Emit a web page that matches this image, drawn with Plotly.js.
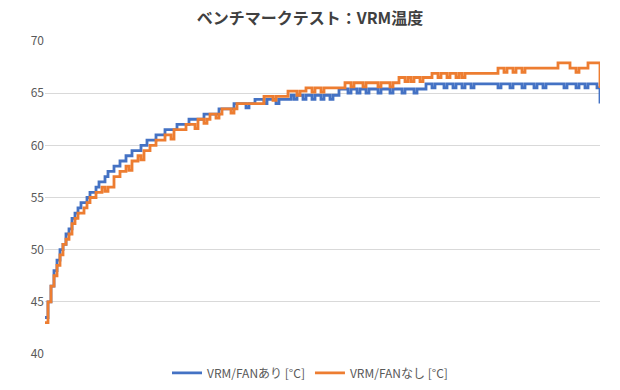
<!DOCTYPE html>
<html>
<head>
<meta charset="utf-8">
<script src="https://cdn.plot.ly/plotly-3.0.1.min.js"></script>
<style>
html,body{margin:0;padding:0;background:#fff;}
#chart{width:620px;height:390px;}
</style>
</head>
<body>
<div id="chart"></div>
<script>
const chartTitle = 'ベンチマークテスト：VRM温度';
const seriesNames = ['VRM/FANあり [°C]', 'VRM/FANなし [°C]'];
const yTickValues = [40, 45, 50, 55, 60, 65, 70];

// Sample number along the benchmark run
const sampleIndex = [
  0,1,2,3,4,5,6,7,8,9,10,11,12,13,14,15,16,17,18,19,
  20,21,22,23,24,25,26,27,28,29,30,31,32,33,34,35,36,37,38,39,
  40,41,42,43,44,45,46,47,48,49,50,51,52,53,54,55,56,57,58,59,
  60,61,62,63,64,65,66,67,68,69,70,71,72,73,74,75,76,77,78,79,
  80,81,82,83,84,85,86,87,88,89,90,91,92,93,94,95,96,97,98,99,
  100,101,102,103,104,105,106,107,108,109,110,111,112,113,114,115,116,117,118,119,
  120,121,122,123,124,125,126,127,128,129,130,131,132,133,134,135,136,137,138,139,
  140,141,142,143,144,145,146,147,148,149,150,151,152,153,154,155,156,157,158,159,
  160,161,162,163,164,165,166,167,168,169,170,171,172,173,174,175,176,177,178,179,
  180,181,182,183,184,185
];

// VRM/FANあり
const withFan = [
  43.5,45,46.5,48,49,50,50.5,51.5,52,53,53.5,54,54.5,54.5,55,55.5,55.5,56,56.5,56.5,
  57,57.5,57.5,58,58,58.5,58.5,59,59,59.5,59.5,59.5,60,60,60.5,60.5,60.5,61,61,61,
  61.5,61.5,61.5,61.5,62,62,62,62,62.5,62.5,62.5,62.5,62.5,63,63,63,63,63,63.5,63.5,
  63.5,63.5,63.5,64,64,64,64,63.6,64,64,64.4,64.4,64.4,64,64.4,64.4,64.4,64,64.4,64.4,
  64.4,64.4,64.8,64.4,64.8,64.8,64.4,64.8,64.8,64.4,64.8,64.8,64.4,64.8,64.8,64.4,64.8,64.8,65.4,65.4,
  65.4,65,65.4,65.4,65,65.4,65.4,65,65.4,65.4,65.4,65,65.4,65.4,65.4,65,65.4,65.4,65.4,65,
  65.4,65.4,65.4,65,65.4,65.4,65.4,65.9,65.9,65.5,65.9,65.9,65.9,65.5,65.9,65.9,65.5,65.9,65.9,65.5,
  65.9,65.9,65.5,65.9,65.9,65.9,65.9,65.9,65.9,65.9,65.9,65.5,65.9,65.9,65.9,65.5,65.9,65.9,65.9,65.5,
  65.9,65.9,65.9,65.5,65.9,65.9,65.5,65.9,65.9,65.9,65.9,65.9,65.9,65.5,65.9,65.9,65.9,65.5,65.9,65.9,
  65.5,65.9,65.9,65.9,65.5,64
];

// VRM/FANなし
const withoutFan = [
  43,45,46.5,47.5,48.5,49.5,50.5,51,51.5,52.5,53,53.5,53.5,54,54.5,55,55,55.5,55.5,56,
  55.6,56,56,57,57,57.5,57.5,58,57.6,58.5,58.5,59,58.6,59.5,59.5,60,60,60.5,60.5,60.5,
  61,61,60.6,61.5,61.5,61.5,61.5,62,62,62,61.6,62.5,62.5,62.1,62.5,63,63,62.6,63,63.5,
  63.5,63.5,63.1,63.5,64,64,64,64,64,64,64,64,64,64.7,64.7,64.7,64.3,64.7,64.7,64.7,
  64.7,65.2,65.2,65.2,64.8,65.2,65.2,65.5,65.5,65.1,65.5,65.5,65.1,65.5,65.5,65.5,65.5,65.5,65.5,65.5,
  66,66,65.6,66,66,66,65.6,66,66,66,66,65.6,66,66,66,65.6,66,66,66.5,66.5,
  66.1,66.5,66.1,66.5,66.5,66.1,66.5,66.5,66.5,66.9,66.9,66.5,66.9,66.9,66.5,66.9,66.9,66.5,66.9,66.5,
  66.9,66.9,66.9,66.9,66.9,66.9,66.9,66.9,66.9,66.9,66.9,67.4,67.4,67,67.4,67.4,67,67.4,67.4,67,
  67.4,67.4,67.4,67.4,67.4,67.4,67.4,67.4,67.4,67.4,67.4,67.9,67.9,67.9,67.9,67.4,67.4,67,67.4,67.4,
  67.4,67.9,67.9,67.9,67.9,65.5
];

const FONT = '"Noto Sans CJK JP", "Noto Sans", sans-serif';

const traces = [
  {x: sampleIndex, y: withFan, name: seriesNames[0], type: 'scatter', mode: 'lines',
   line: {color: '#4472C4', width: 2.8, shape: 'hv'}},
  {x: sampleIndex, y: withoutFan, name: seriesNames[1], type: 'scatter', mode: 'lines',
   line: {color: '#ED7D31', width: 2.8, shape: 'hv'}}
];

const layout = {
  width: 620, height: 390,
  margin: {l: 45, r: 20, t: 41, b: 36, autoexpand: false},
  paper_bgcolor: '#ffffff', plot_bgcolor: '#ffffff',
  font: {family: FONT, color: '#595959', size: 12},
  title: {text: '<b>' + chartTitle + '</b>', x: 0.5, xref: 'container', xanchor: 'center',
          y: 0.953, yanchor: 'middle',
          font: {family: FONT, size: 16, color: '#404040'}},
  xaxis: {range: [0, 185], showgrid: false, zeroline: false, showline: false,
          showticklabels: false, ticks: '', fixedrange: true},
  yaxis: {range: [40, 70], tickvals: yTickValues, ticktext: yTickValues.map(String),
          showgrid: true, gridcolor: '#D9D9D9', gridwidth: 1, zeroline: false, showline: false,
          ticks: '', ticklen: 0, tickfont: {size: 12, color: '#595959'}, fixedrange: true},
  showlegend: true,
  legend: {orientation: 'h', xref: 'container', yref: 'container', x: 0.5, xanchor: 'center',
           y: 0.044, yanchor: 'middle',
           font: {size: 12, color: '#595959'}, itemwidth: 30, tracegroupgap: 0},
};

Plotly.newPlot('chart', traces, layout, {staticPlot: true, displayModeBar: false});
</script>
</body>
</html>
